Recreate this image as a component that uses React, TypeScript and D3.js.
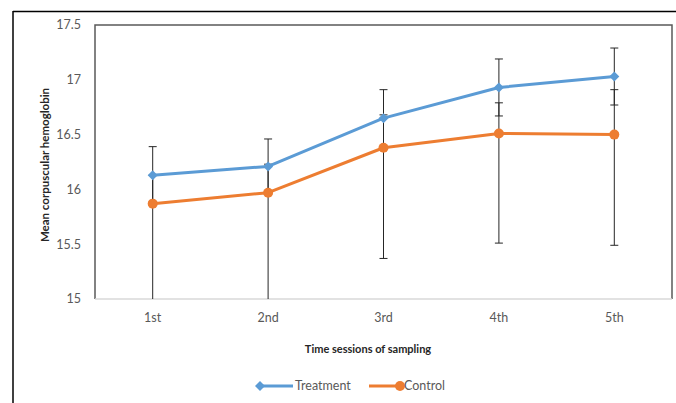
import React from "react";
import * as d3 from "d3";

const categories = ["1st", "2nd", "3rd", "4th", "5th"];
const treatment = [16.13, 16.21, 16.65, 16.93, 17.03];
const control = [15.87, 15.97, 16.38, 16.51, 16.5];
const treatmentErr = [0.26, 0.25, 0.26, 0.26, 0.26];
const controlErrUp = [0.26, 0.26, 0.3, 0.28, 0.41];
const controlErrDown = [1.0, 1.0, 1.01, 1.0, 1.01];
const yTicks = [15, 15.5, 16, 16.5, 17, 17.5];

const W = 676;
const H = 403;
const left = 95;
const right = 672;
const top = 25;
const bottom = 299;
const blue = "#5B9BD5";
const orange = "#ED7D31";
const font = "Lato, 'Open Sans', sans-serif";

export default function App() {
  const x = d3.scaleBand<string>().domain(categories).range([left, right]).padding(0);
  const y = d3.scaleLinear().domain([15, 17.5]).range([bottom, top]);
  const cx = (c: string) => (x(c) as number) + x.bandwidth() / 2;
  const clampY = (v: number) => Math.max(top, Math.min(bottom, y(v)));

  const line = d3
    .line<number>()
    .x((_, i) => cx(categories[i]))
    .y((d) => y(d));

  const errBars: { x: number; lo: number; hi: number; loCap: boolean; hiCap: boolean }[] = [];
  categories.forEach((c, i) => {
    const tLo = treatment[i] - treatmentErr[i];
    const tHi = treatment[i] + treatmentErr[i];
    errBars.push({ x: cx(c), lo: tLo, hi: tHi, loCap: tLo >= 15, hiCap: tHi <= 17.5 });
    const cLo = control[i] - controlErrDown[i];
    const cHi = control[i] + controlErrUp[i];
    errBars.push({ x: cx(c), lo: cLo, hi: cHi, loCap: cLo >= 15, hiCap: cHi <= 17.5 });
  });

  const diamond = d3.symbol(d3.symbolSquare, 50)() as string;

  return (
    <svg width={W} height={H} style={{ position: "absolute", left: 0, top: 0, background: "#fff" }}>
      <rect x={0} y={0} width={W} height={H} fill="#fff" />
      {/* outer border */}
      <line x1={13} y1={11.5} x2={W} y2={11.5} stroke="#000" strokeWidth={1.5} />
      <line x1={13} y1={11} x2={13} y2={H} stroke="#000" strokeWidth={1.5} />

      {/* plot area border */}
      <path
        d={`M${left},${bottom} L${left},${top} L${right},${top} L${right},${bottom}`}
        fill="none"
        stroke="#595959"
        strokeWidth={1.5}
      />
      <line x1={left} y1={bottom} x2={right} y2={bottom} stroke="#D9D9D9" strokeWidth={1.5} />

      {/* y ticks */}
      {yTicks.map((t) => (
        <text
          key={t}
          x={81}
          y={y(t)}
          dy="0.35em"
          textAnchor="end"
          fontFamily={font}
          fontSize={12.5}
          fill="#595959"
        >
          {t}
        </text>
      ))}

      {/* x ticks */}
      {categories.map((c) => (
        <text
          key={c}
          x={cx(c)}
          y={318}
          dy="0.35em"
          textAnchor="middle"
          fontFamily={font}
          fontSize={12.5}
          fill="#595959"
        >
          {c}
        </text>
      ))}

      {/* axis titles */}
      <text
        x={368}
        y={349}
        dy="0.35em"
        textAnchor="middle"
        fontFamily={font}
        fontSize={11}
        fontWeight="bold"
        fill="#262626"
      >
        Time sessions of sampling
      </text>
      <text
        transform={`translate(45,165) rotate(-90)`}
        dy="0.35em"
        textAnchor="middle"
        fontFamily={font}
        fontSize={11.5}
        fontWeight="bold"
        fill="#262626"
      >
        Mean corpuscular hemoglobin
      </text>

      {/* error bars */}
      {errBars.map((e, i) => (
        <g key={i} stroke="#262626" strokeWidth={1}>
          <line x1={e.x} x2={e.x} y1={clampY(e.lo)} y2={clampY(e.hi)} />
          {e.loCap && <line x1={e.x - 4} x2={e.x + 4} y1={y(e.lo)} y2={y(e.lo)} />}
          {e.hiCap && <line x1={e.x - 4} x2={e.x + 4} y1={y(e.hi)} y2={y(e.hi)} />}
        </g>
      ))}

      {/* lines */}
      <path d={line(treatment) as string} fill="none" stroke={blue} strokeWidth={3} strokeLinejoin="round" />
      <path d={line(control) as string} fill="none" stroke={orange} strokeWidth={3} strokeLinejoin="round" />
      {treatment.map((v, i) => (
        <path
          key={"t" + i}
          d={diamond}
          transform={`translate(${cx(categories[i])},${y(v)}) rotate(45)`}
          fill={blue}
        />
      ))}
      {control.map((v, i) => (
        <circle key={"c" + i} cx={cx(categories[i])} cy={y(v)} r={5} fill={orange} />
      ))}

      {/* legend */}
      <line x1={258} x2={293} y1={386} y2={386} stroke={blue} strokeWidth={3} />
      <path d={diamond} transform="translate(260,386) rotate(45)" fill={blue} />
      <text x={295} y={386} dy="0.35em" fontFamily={font} fontSize={12.5} fill="#595959">
        Treatment
      </text>
      <line x1={369} x2={402} y1={386} y2={386} stroke={orange} strokeWidth={3} />
      <circle cx={400} cy={386} r={5} fill={orange} />
      <text x={404} y={386} dy="0.35em" fontFamily={font} fontSize={12.5} fill="#595959">
        Control
      </text>
    </svg>
  );
}
